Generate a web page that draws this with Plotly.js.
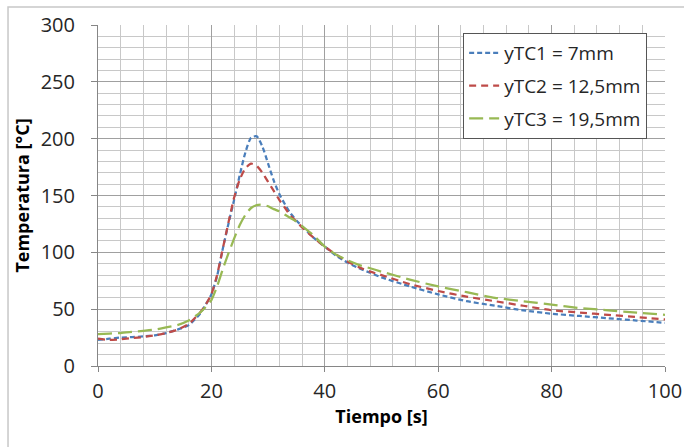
<!DOCTYPE html>
<html>
<head>
<meta charset="utf-8">
<script src="https://cdn.plot.ly/plotly-3.0.1.min.js"></script>
<style>
  html, body { margin: 0; padding: 0; background: #ffffff; }
  #chart { width: 684px; height: 447px; }
</style>
</head>
<body>
<div id="chart"></div>
<script>
// Time [s]
const tiempo = [0, 2, 4, 6, 8, 10, 12, 14, 16, 18, 19, 20, 21, 22, 23, 24, 25, 26, 27, 28, 29, 30, 31, 32, 33, 34, 35, 36, 38, 40, 42, 44, 46, 48, 50, 55, 60, 65, 70, 75, 80, 85, 90, 95, 100];

// Series values [°C]
const yTC1 = [23, 24, 25, 25.5, 26, 27, 29, 32, 36, 46, 54, 63, 79, 103, 125, 146, 168, 188, 201, 202, 193, 178, 163, 151, 142, 134, 128, 123, 113, 105, 97, 91, 86, 82, 78, 70, 63, 57, 53, 49, 46, 44, 42, 40, 38];
const yTC2 = [24, 23, 23.5, 24.5, 25.5, 27, 29, 32, 37, 47, 54, 63, 80, 103, 126, 148, 164, 174, 178, 176, 170, 162, 154, 146, 139, 132, 127, 122, 113, 105, 98, 92, 87, 83, 80, 72, 66, 61, 57, 53, 49, 47, 45, 43, 41];
const yTC3 = [28, 28.5, 29, 30, 31, 32, 34, 36, 40, 47, 52, 58, 70, 85, 99, 112, 124, 133, 139, 141.5, 142, 140.5, 138, 136, 133, 130, 127, 123, 115, 105, 98, 93, 89, 86, 83, 76, 70, 65, 60, 57, 54, 51, 49, 47, 45];

const seriesNames = ["yTC1 = 7mm", "yTC2 = 12,5mm", "yTC3 = 19,5mm"];

const xTickVals = [0, 20, 40, 60, 80, 100];
const yTickVals = [0, 50, 100, 150, 200, 250, 300];

const FONT = "Open Sans, Noto Sans, sans-serif";

const styles = [
  {color: "#4A7EBB", dash: "5px,3px"},
  {color: "#BE4B48", dash: "7px,5px"},
  {color: "#98B954", dash: "14px,6px"}
];
const data = [yTC1, yTC2, yTC3].map((ys, i) => ({
  x: tiempo,
  y: ys,
  type: "scatter",
  mode: "lines",
  name: seriesNames[i],
  legendgroup: "g" + i,
  line: {color: styles[i].color, width: 2.25, dash: styles[i].dash, shape: "spline", smoothing: 0.6}
}));

const layout = {
  width: 684,
  height: 447,
  margin: {l: 98, r: 19, t: 25, b: 81},
  paper_bgcolor: "#ffffff",
  plot_bgcolor: "#ffffff",
  font: {family: FONT, size: 19, color: "#262626"},
  showlegend: true,
  legend: {
    x: 0.644, y: 0.9765, xanchor: "left", yanchor: "top",
    bgcolor: "#ffffff",
    bordercolor: "#555555",
    borderwidth: 1,
    font: {family: FONT, size: 19, color: "#262626"},
    traceorder: "grouped",
    tracegroupgap: 5
  },
  xaxis: {
    range: [0, 100],
    tickvals: xTickVals,
    ticktext: xTickVals.map(String),
    ticks: "outside",
    ticklen: 5,
    tickcolor: "#868686",
    showline: true,
    linecolor: "#868686",
    linewidth: 1,
    zeroline: false,
    showgrid: true,
    gridcolor: "#a0a0a0",
    gridwidth: 1,
    minor: {dtick: 4, tick0: 0, showgrid: true, gridcolor: "#c8c8c8", gridwidth: 1, ticks: ""},
    tickfont: {family: FONT, size: 20, color: "#262626"},
    ticklabelstandoff: 2,
    title: {text: "<b>Tiempo [s]</b>", font: {family: FONT, size: 18, color: "#000000"}, standoff: 6}
  },
  yaxis: {
    range: [0, 300],
    tickvals: yTickVals,
    ticktext: yTickVals.map(String),
    ticks: "outside",
    ticklen: 6,
    tickcolor: "#868686",
    showline: true,
    linecolor: "#868686",
    linewidth: 1,
    zeroline: false,
    showgrid: true,
    gridcolor: "#a0a0a0",
    gridwidth: 1,
    minor: {dtick: 10, tick0: 0, showgrid: true, gridcolor: "#c8c8c8", gridwidth: 1, ticks: ""},
    tickfont: {family: FONT, size: 20, color: "#262626"},
    ticklabelstandoff: 12,
    title: {text: "<b>Temperatura [°C]</b>", font: {family: FONT, size: 18, color: "#000000"}, standoff: 6}
  },
  shapes: [
    {type: "rect", xref: "paper", yref: "paper", x0: -0.1587, x1: 1.07, y0: -0.3, y1: 1.0528,
     line: {color: "#c8c8c8", width: 1.5}, fillcolor: "rgba(0,0,0,0)", layer: "below"}
  ]
};

Plotly.newPlot("chart", data, layout, {displayModeBar: false, staticPlot: true});
</script>
</body>
</html>
